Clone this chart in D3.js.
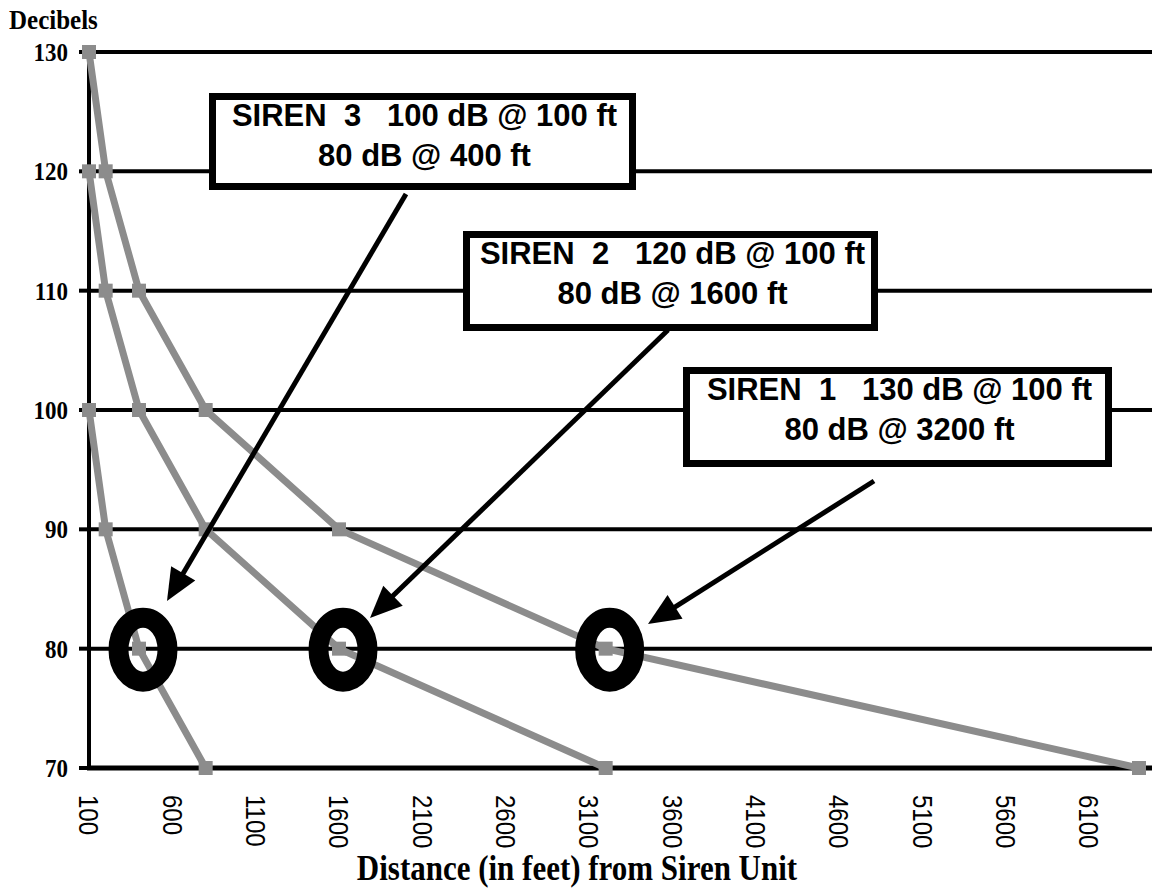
<!DOCTYPE html>
<html>
<head>
<meta charset="utf-8">
<script src="https://cdn.jsdelivr.net/npm/d3@7"></script>
<style>
  body { margin: 0; background: #fff; }
  svg { display: block; }
  text { white-space: pre; }
</style>
</head>
<body>
<svg width="1152" height="896"></svg>
<script>
// distances (ft) and sound levels (dB)
var distances = [100, 200, 400, 800, 1600, 3200, 6400];
var siren1 = [130, 120, 110, 100, 90, 80, 70];
var siren2 = [120, 110, 100, 90, 80, 70];
var siren3 = [100, 90, 80, 70];
var yTicks = [70, 80, 90, 100, 110, 120, 130];
var xTicks = [100, 600, 1100, 1600, 2100, 2600, 3100, 3600, 4100, 4600, 5100, 5600, 6100];
var ringDistances = [400, 1600, 3200];   // where each siren reaches 80 dB
var ringLevel = 80;
var boxLines = [
  ["SIREN  3   100 dB @ 100 ft", "80 dB @ 400 ft"],
  ["SIREN  2   120 dB @ 100 ft", "80 dB @ 1600 ft"],
  ["SIREN  1   130 dB @ 100 ft", "80 dB @ 3200 ft"]
];

var svg = d3.select("svg");
var grey = "#8c8c8c";

var x = d3.scaleLinear().domain([100, 6500]).range([89, 89 + 6400 / 6]);
var y = d3.scaleLinear().domain([70, 130]).range([768, 52]);

// grid lines
svg.append("g").selectAll("line")
    .data(yTicks.filter(function(d) { return d > 70; }))
  .enter().append("line")
    .attr("x1", 89).attr("x2", 1152)
    .attr("y1", function(d) { return y(d); })
    .attr("y2", function(d) { return y(d); })
    .attr("stroke", "#000").attr("stroke-width", 4);

// y tick marks
svg.append("g").selectAll("line")
    .data(yTicks)
  .enter().append("line")
    .attr("x1", 79).attr("x2", 89)
    .attr("y1", function(d) { return y(d); })
    .attr("y2", function(d) { return y(d); })
    .attr("stroke", "#000").attr("stroke-width", 4);

// axes
svg.append("line").attr("x1", 89).attr("x2", 89).attr("y1", y(130) - 2).attr("y2", y(70) + 2)
    .attr("stroke", "#000").attr("stroke-width", 4);
svg.append("line").attr("x1", 87).attr("x2", 1152).attr("y1", y(70)).attr("y2", y(70))
    .attr("stroke", "#000").attr("stroke-width", 5);

// y labels
svg.append("g").selectAll("text")
    .data(yTicks)
  .enter().append("text")
    .attr("transform", function(d) { return "translate(68," + y(d) + ") scale(1,1.1)"; })
    .attr("dy", "0.35em")
    .attr("text-anchor", "end")
    .attr("font-family", "Liberation Serif")
    .attr("font-weight", "bold")
    .attr("font-size", 23)
    .text(function(d) { return d; });

svg.append("text")
    .attr("transform", "translate(9,29) scale(1,1.1)")
    .attr("font-family", "Liberation Serif")
    .attr("font-weight", "bold")
    .attr("font-size", 25)
    .text("Decibels");

// x labels, rotated
svg.append("g").selectAll("text")
    .data(xTicks)
  .enter().append("text")
    .attr("transform", function(d) { return "translate(" + x(d) + ",795) rotate(90) scale(1,1.15)"; })
    .attr("dy", "0.35em")
    .attr("font-family", "Liberation Sans")
    .attr("font-size", 24)
    .text(function(d) { return d; });

svg.append("text")
    .attr("transform", "translate(577,880) scale(1,1.15)")
    .attr("text-anchor", "middle")
    .attr("font-family", "Liberation Serif")
    .attr("font-weight", "bold")
    .attr("font-size", 31)
    .text("Distance (in feet) from Siren Unit");

// series
var line = d3.line()
    .x(function(d, i) { return x(distances[i]); })
    .y(function(d) { return y(d); });

[siren1, siren2, siren3].forEach(function(s) {
  svg.append("path")
      .datum(s)
      .attr("d", line)
      .attr("fill", "none")
      .attr("stroke", grey)
      .attr("stroke-width", 7)
      .attr("stroke-linejoin", "miter");
  svg.append("g").selectAll("rect")
      .data(s)
    .enter().append("rect")
      .attr("x", function(d, i) { return x(distances[i]) - 7; })
      .attr("y", function(d) { return y(d) - 7; })
      .attr("width", 14).attr("height", 14)
      .attr("fill", grey);
});

// annotation boxes
var boxes = [
  {x: 212.5, y: 96.5, w: 420, h: 90},
  {x: 466.5, y: 234.5, w: 408, h: 93},
  {x: 686.5, y: 370.5, w: 422, h: 93}
];
boxes.forEach(function(b, i) {
  svg.append("rect")
      .attr("x", b.x).attr("y", b.y).attr("width", b.w).attr("height", b.h)
      .attr("fill", "#fff").attr("stroke", "#000").attr("stroke-width", 7);
  boxLines[i].forEach(function(t, j) {
    svg.append("text")
        .attr("x", b.x + b.w / 2 + 2)
        .attr("y", b.y + 29 + j * 40)
        .attr("text-anchor", "middle")
        .attr("font-family", "Liberation Sans")
        .attr("font-weight", "bold")
        .attr("font-size", 31)
        .text(t);
  });
});

// arrows from boxes to rings
var arrows = [
  {from: [406, 194], tip: [167, 601]},
  {from: [668, 330], tip: [370, 618]},
  {from: [874, 481], tip: [648, 624]}
];
arrows.forEach(function(a) {
  var dx = a.tip[0] - a.from[0], dy = a.tip[1] - a.from[1];
  var len = Math.sqrt(dx * dx + dy * dy), ux = dx / len, uy = dy / len;
  var hl = 32, hw = 14;
  var bx = a.tip[0] - ux * hl, by = a.tip[1] - uy * hl;
  svg.append("line")
      .attr("x1", a.from[0]).attr("y1", a.from[1])
      .attr("x2", bx + ux * 4).attr("y2", by + uy * 4)
      .attr("stroke", "#000").attr("stroke-width", 5);
  svg.append("path")
      .attr("d", "M" + a.tip + "L" + [bx - uy * hw, by + ux * hw] + "L" + [bx + uy * hw, by - ux * hw] + "Z")
      .attr("fill", "#000");
});

// rings at 80 dB
svg.append("g").selectAll("ellipse")
    .data(ringDistances)
  .enter().append("ellipse")
    .attr("cx", function(d) { return x(d) + 4; })
    .attr("cy", y(ringLevel) + 1)
    .attr("rx", 24.5).attr("ry", 32)
    .attr("fill", "none")
    .attr("stroke", "#000")
    .attr("stroke-width", 20);
</script>
</body>
</html>
